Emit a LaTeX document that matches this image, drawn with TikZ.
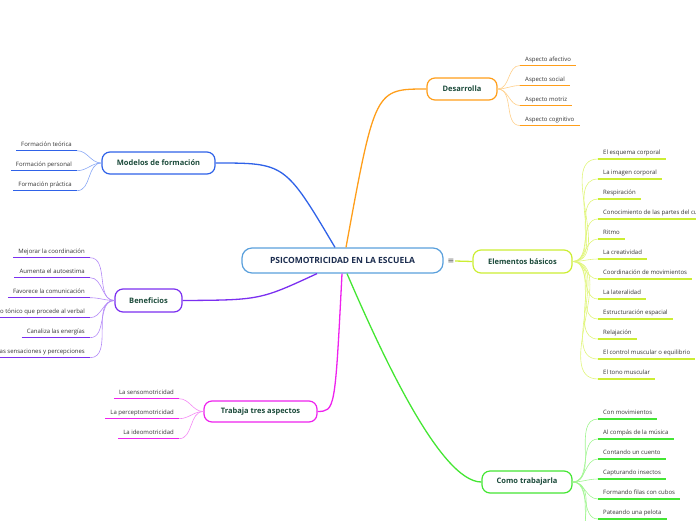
\documentclass[tikz,border=0pt]{standalone}
\usepackage{fontspec}
\setmainfont{Open Sans}
\newfontfamily\symfont{DejaVu Sans}
\definecolor{cctr}{HTML}{5AA0DC}
\definecolor{navy}{HTML}{1C2D4F}
\definecolor{tdark}{HTML}{1B4A3A}
\definecolor{leaf}{HTML}{333333}
\definecolor{cblue}{HTML}{2F62E8}
\definecolor{lblue}{HTML}{8AA8F5}
\definecolor{cpur}{HTML}{7B2FF0}
\definecolor{lpur}{HTML}{B48AF7}
\definecolor{cmag}{HTML}{EE22EE}
\definecolor{lmag}{HTML}{F48AF4}
\definecolor{cgrn}{HTML}{44E633}
\definecolor{lgrn}{HTML}{A0F590}
\definecolor{corg}{HTML}{FF9E1A}
\definecolor{lorg}{HTML}{FFCF8A}
\definecolor{cyg}{HTML}{CCEE33}
\definecolor{lyg}{HTML}{E0F57A}
\begin{document}
\begin{tikzpicture}[x=1pt,y=-1pt,
  topic/.style={draw, rounded corners=8pt, line width=1.2pt, fill=white,
    font=\bfseries\fontsize{7.5}{9}\selectfont, text=tdark, inner sep=0pt},
  leafR/.style={anchor=south west, font=\fontsize{6}{7}\selectfont, text=leaf,
    inner xsep=5pt, inner ysep=3pt, text height=4.5pt, text depth=1.3pt},
  leafL/.style={leafR, anchor=south east},
  ul/.style={line width=1.5pt},
  main/.style={line width=1.3pt},
  sub/.style={line width=0.6pt}]
\useasboundingbox (0,0) rectangle (696,520);
\clip (0,0) rectangle (696,520);

% central node
\node[draw=cctr, rounded corners=10pt, line width=1.2pt, fill=white,
  minimum width=201pt, minimum height=25pt, inner sep=0pt,
  font=\bfseries\fontsize{8.5}{10}\selectfont, text=navy] (ctr) at (342.5,260.5)
  {PSICOMOTRICIDAD EN LA ESCUELA};
\node[font=\symfont\fontsize{8}{9}\selectfont, text=black!65, inner sep=0.5pt] (eq) at (451,261) {≡};

% main topics
\node[topic, draw=corg, minimum width=70pt, minimum height=22pt] (des) at (462,89) {Desarrolla};
\node[topic, draw=cyg, minimum width=99pt, minimum height=23pt] (ele) at (522.5,261.5) {Elementos básicos};
\node[topic, draw=cgrn, minimum width=90pt, minimum height=22pt] (com) at (527,482) {Como trabajarla};
\node[topic, draw=cblue, minimum width=113pt, minimum height=22pt] (mod) at (158.5,163) {Modelos de formación};
\node[topic, draw=cpur, minimum width=67pt, minimum height=23pt] (ben) at (148.5,300.5) {Beneficios};
\node[topic, draw=cmag, minimum width=113pt, minimum height=21pt] (tra) at (260.5,411.5) {Trabaja tres aspectos};

% main connectors
\draw[main, cblue] (mod.east) .. controls (285,163) .. ([xshift=-7.5pt]ctr.north);
\draw[main, corg] ([xshift=3.5pt]ctr.north) .. controls (375,89) .. (des.west);
\draw[main, cpur] ([xshift=-25.5pt]ctr.south) .. controls (260,300) .. (ben.east);
\draw[main, cmag] ([xshift=-0.5pt]ctr.south) .. controls (335,411) .. (tra.east);
\draw[main, cgrn] ([xshift=4.5pt]ctr.south) .. controls (380,350) and (440,482) .. (com.west);
\draw[main, cyg] (eq.east) -- (ele.west);

% Desarrolla children
\foreach \t [count=\i] in {Aspecto afectivo, Aspecto social, Aspecto motriz, Aspecto cognitivo}
  \node[leafR] (d\i) at (520,{45.5+20*\i}) {\t};
\foreach \i in {1,...,4}{
  \draw[sub, lorg] (des.east) to[out=0,in=180] (d\i.south west);
  \draw[ul, corg] (d\i.south west) -- (d\i.south east);}

% Elementos children
\foreach \t [count=\i] in {El esquema corporal, La imagen corporal, Respiración,
  Conocimiento de las partes del cuerpo, Ritmo, La creatividad,
  Coordinación de movimientos, La lateralidad, Estructuración espacial,
  Relajación, El control muscular o equilibrio, El tono muscular}
  \node[leafR] (e\i) at (598,{139+20*\i}) {\t};
\foreach \i in {1,...,12}{
  \draw[sub, lyg] (ele.east) to[out=0,in=180] (e\i.south west);
  \draw[ul, cyg] (e\i.south west) -- (e\i.south east);}

% Como trabajarla children
\foreach \t [count=\i] in {Con movimientos, Al compás de la música, Contando un cuento,
  Capturando insectos, Formando filas con cubos, Pateando una pelota}
  \node[leafR] (c\i) at (598,{399+20*\i}) {\t};
\foreach \i in {1,...,6}{
  \draw[sub, lgrn] (com.east) to[out=0,in=180] (c\i.south west);
  \draw[ul, cgrn] (c\i.south west) -- (c\i.south east);}
\coordinate (c7) at (598,539);
\coordinate (c8) at (598,559);
\draw[sub, lgrn] (com.east) to[out=0,in=180] (c7);
\draw[sub, lgrn] (com.east) to[out=0,in=180] (c8);

% Modelos children
\foreach \t [count=\i] in {Formación teórica, Formación personal, Formación práctica}
  \node[leafL] (m\i) at (77,{130.7+20*\i}) {\t};
\foreach \i in {1,...,3}{
  \draw[sub, lblue] (mod.west) to[out=180,in=0] (m\i.south east);
  \draw[ul, cblue] (m\i.south west) -- (m\i.south east);}

% Beneficios children
\foreach \t [count=\i] in {Mejorar la coordinación, Aumenta el autoestima,
  Favorece la comunicación, go tónico que procede al verbal,
  Canaliza las energías, as sensaciones y percepciones}
  \node[leafL] (b\i) at (90,{237.7+20*\i}) {\t};
\foreach \i in {1,...,6}{
  \draw[sub, lpur] (ben.west) to[out=180,in=0] (b\i.south east);
  \draw[ul, cpur] (b\i.south west) -- (b\i.south east);}

% Trabaja children
\foreach \t [count=\i] in {La sensomotricidad, La perceptomotricidad, La ideomotricidad}
  \node[leafL] (t\i) at (179,{378.7+20*\i}) {\t};
\foreach \i in {1,...,3}{
  \draw[sub, lmag] (tra.west) to[out=180,in=0] (t\i.south east);
  \draw[ul, cmag] (t\i.south west) -- (t\i.south east);}
\end{tikzpicture}
\end{document}
